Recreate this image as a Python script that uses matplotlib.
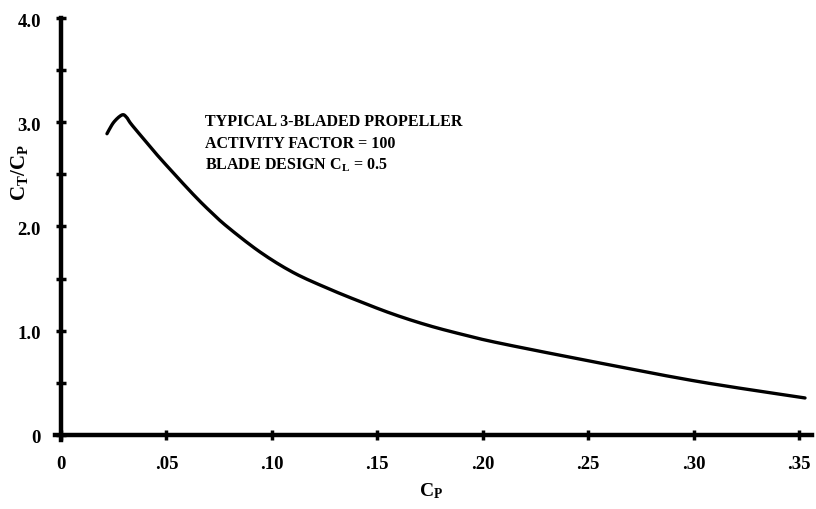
import matplotlib
matplotlib.use("Agg")
import matplotlib.pyplot as plt
import matplotlib.transforms as mtransforms

# --- data ---
cp = [0.0218, 0.0250, 0.0289, 0.0310, 0.0330, 0.0375, 0.0450, 0.0530, 0.0626,
      0.0700, 0.0787, 0.0944, 0.1100, 0.1261, 0.1418, 0.1574, 0.1735, 0.1892,
      0.2082, 0.2556, 0.3030, 0.3528]
ct_cp = [2.89, 3.00, 3.07, 3.05, 2.99, 2.88, 2.70, 2.52, 2.31,
         2.16, 2.00, 1.755, 1.56, 1.41, 1.28, 1.16, 1.055, 0.97,
         0.88, 0.69, 0.51, 0.355]

x_ticks = [0, 0.05, 0.10, 0.15, 0.20, 0.25, 0.30, 0.35]
x_labels = ['0', '.05', '.10', '.15', '.20', '.25', '.30', '.35']
y_ticks = [0, 0.5, 1.0, 1.5, 2.0, 2.5, 3.0, 3.5, 4.0]
y_labels = ['0', '', '1.0', '', '2.0', '', '3.0', '', '4.0']

note_lines = ['TYPICAL 3-BLADED PROPELLER',
              'ACTIVITY FACTOR = 100',
              r'BLADE DESIGN $\mathregular{C_L}$ = 0.5']

plt.rcParams['font.family'] = ['Liberation Serif', 'DejaVu Serif']
plt.rcParams['font.weight'] = 'bold'
plt.rcParams['mathtext.fontset'] = 'custom'
plt.rcParams['mathtext.rm'] = 'Liberation Serif:bold'
plt.rcParams['mathtext.it'] = 'Liberation Serif:bold'
plt.rcParams['mathtext.bf'] = 'Liberation Serif:bold'
plt.rcParams['mathtext.default'] = 'regular'


def smooth(xs, ys, n=12):
    # Catmull-Rom through the read points, just to draw a smooth pen line
    px, py = [], []
    pts = list(zip(xs, ys))
    for i in range(len(pts) - 1):
        p0 = pts[max(i - 1, 0)]
        p1 = pts[i]
        p2 = pts[i + 1]
        p3 = pts[min(i + 2, len(pts) - 1)]
        for k in range(n):
            t = k / n
            t2, t3 = t * t, t * t * t
            for j, out in ((0, px), (1, py)):
                out.append(0.5 * (2 * p1[j] + (-p0[j] + p2[j]) * t
                                  + (2 * p0[j] - 5 * p1[j] + 4 * p2[j] - p3[j]) * t2
                                  + (-p0[j] + 3 * p1[j] - 3 * p2[j] + p3[j]) * t3))
    px.append(xs[-1])
    py.append(ys[-1])
    return px, py


fig = plt.figure(figsize=(8.16, 5.09), dpi=100)
ax = fig.add_axes([0.0670, 0.1352, 0.9278, 0.8294])

sx, sy = smooth(cp, ct_cp)
ax.plot(sx, sy, color='black', lw=2.4, solid_capstyle='round')

ax.set_xlim(-0.003, 0.356)
ax.set_ylim(-0.05, 4.0)

for side in ('top', 'right'):
    ax.spines[side].set_visible(False)
ax.spines['left'].set_position(('data', 0))
ax.spines['bottom'].set_position(('data', 0))
for side in ('left', 'bottom'):
    ax.spines[side].set_linewidth(3.2)

ax.set_xticks(x_ticks)
ax.set_xticklabels(x_labels)
ax.set_yticks(y_ticks)
ax.set_yticklabels(y_labels)
ax.tick_params(axis='both', direction='inout', length=7, width=2.5,
               labelsize=13.5)
ax.tick_params(axis='x', pad=12)
ax.tick_params(axis='y', pad=11)

# y labels sit slightly below their ticks in the reference
shift = mtransforms.ScaledTranslation(0, -2 / 100, fig.dpi_scale_trans)
for lab in ax.get_yticklabels():
    lab.set_transform(lab.get_transform() + shift)

fig.text(0.528, 0.035, r'$\mathregular{C_P}$', ha='center', va='center',
         fontsize=14)
fig.text(0.0245, 0.662, r'$\mathregular{C_T/C_P}$', ha='center', va='center',
         rotation=90, fontsize=15)

for i, line in enumerate(note_lines):
    ax.text(0.0682, 3.00 - i * 0.205, line, fontsize=11.5, ha='left',
            va='center')

fig.savefig('out.png', dpi=100)
